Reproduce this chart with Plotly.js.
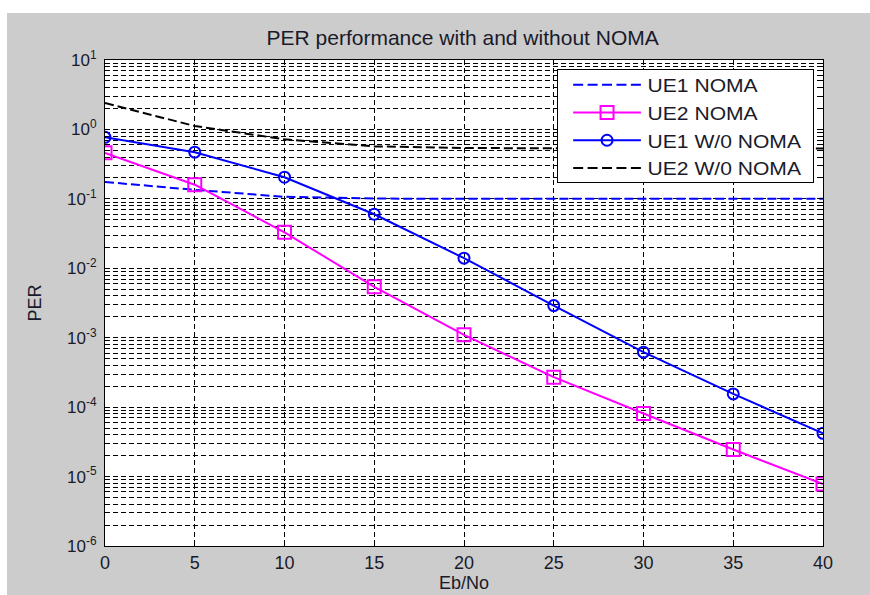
<!DOCTYPE html>
<html>
<head>
<meta charset="utf-8">
<script src="https://cdn.plot.ly/plotly-3.0.1.min.js"></script>
<style>
html,body{margin:0;padding:0;background:#ffffff;}
#chart{position:absolute;left:7px;top:13px;width:863px;height:582px;}
</style>
</head>
<body>
<div id="chart"></div>
<script>
var ebno = [0, 5, 10, 15, 20, 25, 30, 35, 40];
var ue1Noma = [0.175, 0.135, 0.107, 0.101, 0.1, 0.1, 0.1, 0.1, 0.1];
var ue2Noma = [0.46, 0.16, 0.033, 0.0054, 0.0011, 0.00027, 0.000081, 0.0000245, 0.0000078];
var ue1Wo = [0.77, 0.47, 0.205, 0.06, 0.014, 0.0029, 0.00062, 0.000155, 0.000042];
var ue2Wo = [2.4, 1.12, 0.72, 0.57, 0.54, 0.53, 0.53, 0.53, 0.53];
var seriesNames = ["UE1 NOMA", "UE2 NOMA", "UE1 W/0 NOMA", "UE2 W/0 NOMA"];
var yTickExp = [-6, -5, -4, -3, -2, -1, 0, 1];
var xTicks = [0, 5, 10, 15, 20, 25, 30, 35, 40];

var yTickVals = yTickExp.map(function(e){return Math.pow(10, e);});
var yTickText = yTickExp.map(function(e){return "10<sup>" + e + "</sup>";});
var minorVals = [];
for (var e = -6; e < 1; e++) {
  for (var d = 2; d <= 9; d++) minorVals.push(d * Math.pow(10, e));
}

var traces = [
  {x: ebno, y: ue1Noma, name: seriesNames[0], mode: "lines",
   line: {color: "#0000ff", width: 2, dash: "9px,4px"}},
  {x: ebno, y: ue2Noma, name: seriesNames[1], mode: "lines+markers",
   line: {color: "#ff00ff", width: 2},
   marker: {symbol: "square-open", size: 13, color: "#ff00ff", line: {width: 2}}},
  {x: ebno, y: ue1Wo, name: seriesNames[2], mode: "lines+markers",
   line: {color: "#0000ff", width: 2},
   marker: {symbol: "circle-open", size: 11, color: "#0000ff", line: {width: 2}}},
  {x: ebno, y: ue2Wo, name: seriesNames[3], mode: "lines",
   line: {color: "#000000", width: 2, dash: "9px,4px"}}
];

var fontFam = "Arial, 'Liberation Sans', sans-serif";
var layout = {
  width: 863, height: 582,
  paper_bgcolor: "#cccccc",
  plot_bgcolor: "#ffffff",
  margin: {l: 98, r: 47, t: 47, b: 49, pad: 0},
  font: {family: fontFam, size: 18, color: "#1a1a2a"},
  title: {text: "PER performance with and without NOMA", x: 0.528, xanchor: "center",
          y: 0.957, yanchor: "middle", yref: "container", font: {size: 21}},
  showlegend: true,
  legend: {x: 0.988, xanchor: "right", y: 0.9815, yanchor: "top",
           bgcolor: "#ffffff", bordercolor: "#000000", borderwidth: 1,
           font: {size: 19}, tracegroupgap: 0, itemwidth: 67},
  xaxis: {
    range: [0, 40], tickvals: xTicks, ticktext: xTicks.map(String), automargin: false,
    showline: true, linecolor: "#000000", linewidth: 1, mirror: "ticks",
    ticks: "inside", ticklen: 5, tickcolor: "#000000",
    showgrid: true, gridcolor: "#000000", gridwidth: 1, griddash: "5px,3px",
    zeroline: false,
    title: {text: "Eb/No", standoff: 2, font: {size: 18}},
    tickfont: {size: 18}
  },
  yaxis: {
    type: "log", range: [-6, 1], automargin: false,
    tickmode: "array", tickvals: yTickVals, ticktext: yTickText,
    showline: true, linecolor: "#000000", linewidth: 1, mirror: "ticks",
    ticks: "inside", ticklen: 5, tickcolor: "#000000",
    showgrid: true, gridcolor: "#000000", gridwidth: 1, griddash: "5px,3px",
    zeroline: false,
    minor: {tickmode: "array", tickvals: minorVals, showgrid: true,
            gridcolor: "#000000", gridwidth: 1, griddash: "5px,3px",
            ticks: "inside", ticklen: 3, tickcolor: "#000000"},
    title: {text: "PER", standoff: 20, font: {size: 18}},
    tickfont: {size: 17},
    ticklabelstandoff: 4
  }
};

var LEG_SCALE = 1.11;
Plotly.newPlot("chart", traces, layout, {displayModeBar: false, staticPlot: true}).then(function(gd){
  var leg = gd.querySelector("g.legend");
  if (!leg) return;
  var bg = leg.querySelector("rect.bg");
  var w = bg ? parseFloat(bg.getAttribute("width")) : 0;
  var h = bg ? parseFloat(bg.getAttribute("height")) : 0;
  var m = /translate\(([-\d.]+)[ ,]+([-\d.]+)\)/.exec(leg.getAttribute("transform") || "");
  if (m && w) {
    var tx = parseFloat(m[1]), ty = parseFloat(m[2]);
    var nx = tx + w - w * LEG_SCALE - 6;
    leg.setAttribute("transform", "translate(" + nx + "," + ty + ") scale(" + LEG_SCALE + ",1)");
    var bx = parseFloat(bg.getAttribute("x")) || 0;
    bg.setAttribute("x", bx - 4 / LEG_SCALE);
    bg.setAttribute("width", w + 10 / LEG_SCALE);
    bg.setAttribute("height", h - 9);
  }
  var sb = leg.querySelector("g.scrollbox");
  if (sb) {
    var st = sb.getAttribute("transform") || "";
    sb.setAttribute("transform", st + " translate(0,-4)");
  }
  leg.querySelectorAll(".traces").forEach(function(it){
    it.querySelectorAll(".legendlines path").forEach(function(p){
      p.setAttribute("d", "M10,0h61");
    });
    it.querySelectorAll(".legendpoints path.scatterpts").forEach(function(p){
      p.setAttribute("transform", "translate(40.5,0) scale(" + (1 / LEG_SCALE) + ",1)");
    });
  });
});
</script>
</body>
</html>
